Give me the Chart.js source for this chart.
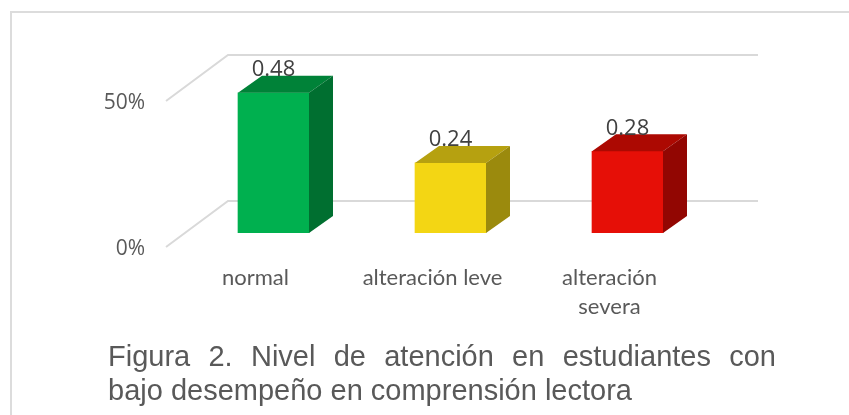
<!DOCTYPE html>
<html>
<head>
<meta charset="utf-8">
<script src="https://cdn.jsdelivr.net/npm/chart.js@4"></script>
<style>
    html, body { margin: 0; padding: 0; background: #fff; overflow: hidden; }
    #wrap { position: relative; width: 849px; height: 415px; }
    #frame { position: absolute; left: 10px; top: 11px; width: 839px; height: 404px; border-left: 2px solid #dcdcdc; border-top: 2px solid #dcdcdc; box-sizing: border-box; }
    #grafico { position: absolute; left: 0; top: 0; }
    #caption { position: absolute; left: 108px; top: 339px; width: 668px; font-family: "Liberation Sans", Arial, sans-serif; font-size: 29px; line-height: 34px; color: #595959; }
    #caption .justificada { text-align: justify; text-align-last: justify; }
</style>
</head>
<body>
<div id="wrap">
    <div id="frame"></div>
    <canvas id="grafico" width="849" height="415"></canvas>
    <div id="caption">
        <div class="justificada">Figura 2. Nivel de atención en estudiantes con</div>
        <div>bajo desempeño en comprensión lectora</div>
    </div>
</div>
<script>
const categorias = ['normal', 'alteración leve', ['alteración', 'severa']];
const valores = [0.48, 0.24, 0.28];
const coloresFrente = ['#00b04f', '#f3d614', '#e60f07'];
const coloresTapa = ['#008238', '#b6a110', '#ac0902'];
const coloresLado = ['#006f30', '#9b8a0d', '#920602'];

// Fake 3D depth of the old office chart
const FONDO_X = 24, FONDO_Y = 17;

function poligono(ctx, puntos, color) {
    ctx.fillStyle = color;
    ctx.beginPath();
    puntos.forEach((p, i) => i ? ctx.lineTo(p[0], p[1]) : ctx.moveTo(p[0], p[1]));
    ctx.closePath();
    ctx.fill();
}

const pared3d = {
    id: 'pared3d',
    beforeDatasetsDraw(chart) {
        const { ctx, scales, chartArea } = chart;
        ctx.save();
        ctx.strokeStyle = '#d9d9d9';
        ctx.lineWidth = 2;
        [0, 0.5].forEach(v => {
            const y = scales.y.getPixelForValue(v);
            ctx.beginPath();
            ctx.moveTo(chartArea.left - 19, y + 14);
            ctx.lineTo(chartArea.left + 43, y - 32);
            ctx.lineTo(chartArea.right + 42, y - 32);
            ctx.stroke();
        });
        ctx.restore();
    }
};

const barras3d = {
    id: 'barras3d',
    afterDatasetsDraw(chart) {
        const { ctx } = chart;
        ctx.save();
        chart.getDatasetMeta(0).data.forEach((bar, i) => {
            const left = bar.x - bar.width / 2, right = bar.x + bar.width / 2;
            const top = bar.y, base = bar.base;
            poligono(ctx, [[left, top], [right, top], [right + FONDO_X, top - FONDO_Y], [left + FONDO_X, top - FONDO_Y]], coloresTapa[i]);
            poligono(ctx, [[right, top], [right + FONDO_X, top - FONDO_Y], [right + FONDO_X, base - FONDO_Y], [right, base]], coloresLado[i]);
            ctx.fillStyle = '#404040';
            ctx.font = '22px "Open Sans", sans-serif';
            ctx.textAlign = 'center';
            ctx.textBaseline = 'middle';
            ctx.fillText(String(valores[i]), bar.x, top - 23);
        });
        ctx.restore();
    }
};

new Chart(document.getElementById('grafico'), {
    type: 'bar',
    data: {
        labels: categorias,
        datasets: [{
            data: valores,
            backgroundColor: coloresFrente,
            barThickness: 71
        }]
    },
    options: {
        responsive: false,
        animation: false,
        layout: { padding: { top: 87, right: 133, left: 0, bottom: 0 } },
        plugins: { legend: { display: false }, tooltip: { enabled: false } },
        scales: {
            x: {
                border: { display: false },
                grid: { display: false, drawTicks: false },
                afterFit(scale) { scale.height = 182; },
                ticks: {
                    maxRotation: 0,
                    padding: 30,
                    labelOffset: -18,
                    color: '#595959',
                    font: { family: 'Lato, sans-serif', size: 22, lineHeight: 1.32 }
                }
            },
            y: {
                min: 0,
                max: 0.5,
                border: { display: false },
                grid: { display: false, drawTicks: false },
                afterFit(scale) { scale.width = 185; },
                ticks: {
                    stepSize: 0.5,
                    padding: 40,
                    labelOffset: 16,
                    color: '#595959',
                    font: { family: '"Open Sans", sans-serif', size: 21 },
                    callback: v => (v * 100) + '%'
                }
            }
        }
    },
    plugins: [pared3d, barras3d]
});
</script>
</body>
</html>
